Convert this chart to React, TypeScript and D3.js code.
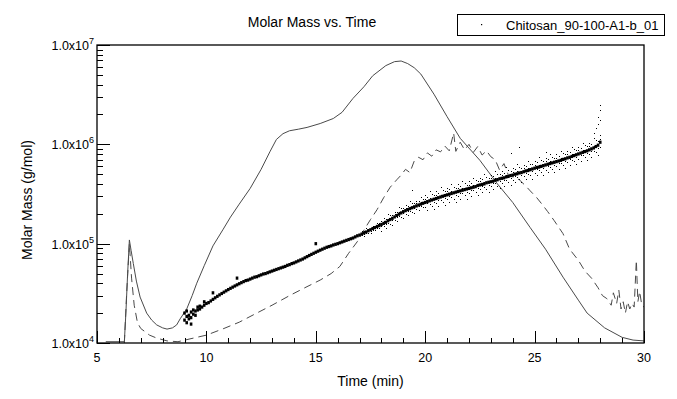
import React, { useEffect, useRef } from "react"
import * as d3 from "d3"

// axis ticks
const xMajorTicks = [5, 10, 15, 20, 25, 30]
const xMinorTicks = [6, 7, 8, 9, 11, 12, 13, 14, 16, 17, 18, 19, 21, 22, 23, 24, 26, 27, 28, 29]
const yDecades = [1e4, 1e5, 1e6, 1e7]
const yExponents = ["4", "5", "6", "7"]

const legendLabel = "Chitosan_90-100-A1-b_01"

// solid trace [time (min), value]
const solidTrace: [number, number][] = [
    [5.4, 1.03e4], [6.25, 1.03e4], [6.32, 2e4], [6.4, 5e4], [6.48, 1.09e5], [6.56, 8.5e4],
    [6.66, 6.3e4], [6.8, 4.2e4], [6.97, 2.9e4], [7.27, 2.0e4], [7.5, 1.7e4], [7.73, 1.52e4],
    [8.0, 1.42e4], [8.2, 1.38e4], [8.45, 1.42e4], [8.64, 1.52e4], [8.8, 1.75e4], [9.1, 2.2e4],
    [9.35, 3.0e4], [9.56, 4.0e4], [9.9, 6.0e4], [10.3, 9.5e4], [10.77, 1.4e5], [11.1, 1.85e5],
    [11.5, 2.5e5], [12.0, 3.6e5], [12.5, 5.6e5], [12.9, 8.4e5], [13.2, 1.12e6], [13.5, 1.28e6],
    [13.8, 1.37e6], [14.2, 1.42e6], [14.6, 1.48e6], [15.2, 1.62e6], [15.8, 1.82e6], [16.2, 2.1e6],
    [16.7, 2.9e6], [17.2, 3.8e6], [17.6, 4.9e6], [18.2, 6.2e6], [18.6, 6.8e6], [18.9, 6.9e6],
    [19.2, 6.5e6], [19.5, 5.9e6], [19.8, 5.1e6], [20.4, 3.2e6], [21.0, 1.9e6], [21.6, 1.15e6],
    [22.5, 6.9e5], [23.3, 4.0e5], [24.0, 2.6e5], [24.8, 1.45e5], [25.5, 8.8e4], [26.3, 4.6e4],
    [27.0, 2.7e4], [27.4, 2.0e4], [28.2, 1.42e4], [29.0, 1.14e4], [29.5, 1.07e4], [30, 1.05e4],
]

// dashed trace [time (min), value]
const dashedTrace: [number, number][] = [
    [6.25, 1.0e4], [6.35, 3e4], [6.48, 1.0e5], [6.58, 4.5e4], [6.7, 2.4e4], [6.85, 1.6e4],
    [7.0, 1.4e4], [7.4, 1.2e4], [7.73, 1.12e4], [8.2, 1.05e4], [8.7, 1.03e4], [9.25, 1.1e4],
    [10.0, 1.2e4], [10.8, 1.4e4], [11.5, 1.62e4], [12.3, 2.0e4], [13.0, 2.4e4], [13.8, 3.0e4],
    [14.5, 3.6e4], [15.2, 4.3e4], [15.7, 5.0e4], [16.1, 5.9e4], [16.5, 8.0e4], [16.9, 1.05e5],
    [17.2, 1.37e5], [17.5, 1.75e5], [17.8, 2.2e5], [18.1, 2.9e5], [18.4, 3.7e5], [18.7, 4.4e5],
    [18.9, 4.9e5], [19.1, 5.6e5], [19.3, 5.2e5], [19.5, 6.8e5], [19.7, 7.4e5], [19.9, 7.0e5],
    [20.1, 8.2e5], [20.3, 7.6e5], [20.5, 8.8e5], [20.7, 8.4e5], [20.9, 9.6e5], [21.1, 8.6e5],
    [21.3, 1.3e6], [21.4, 8.5e5], [21.6, 1.05e6], [21.8, 8.8e5], [22.0, 1.0e6], [22.2, 8.3e5],
    [22.4, 9.5e5], [22.6, 7.8e5], [22.8, 8.6e5], [23.0, 7.5e5], [23.2, 7.0e5], [23.4, 5.5e5],
    [23.6, 6.4e5], [23.8, 4.9e5], [24.0, 4.7e5], [24.3, 4.4e5], [24.6, 3.8e5], [24.8, 3.4e5],
    [25.1, 2.9e5], [25.4, 2.4e5], [25.6, 2.1e5], [25.9, 1.7e5], [26.3, 1.26e5], [26.6, 8.8e4],
    [27.0, 6.8e4], [27.3, 5.3e4], [27.6, 4.5e4], [27.9, 3.6e4], [28.1, 3.0e4], [28.3, 2.8e4],
    [28.5, 2.4e4], [28.6, 3.2e4], [28.75, 2.5e4], [28.85, 3.4e4], [28.95, 2.2e4], [29.05, 2.6e4],
    [29.15, 2.0e4], [29.25, 2.6e4], [29.35, 2.2e4], [29.45, 2.5e4], [29.55, 2.3e4], [29.65, 6.8e4],
    [29.72, 2.6e4], [29.8, 3.3e4], [29.9, 2.4e4], [30.0, 2.3e4],
]

// dense core of the molar mass points: [time, mass, mass, ...]
const molarMassCore: number[][] = [
    [9.0, 1.7e4, 2.0e4], [9.1, 1.85e4, 1.6e4, 2.1e4], [9.2, 1.9e4, 1.75e4], [9.3, 1.8e4, 2.05e4, 1.55e4],
    [9.4, 1.95e4, 2.15e4], [9.5, 2.1e4, 1.9e4], [9.6, 2.15e4, 2.3e4], [9.7, 2.2e4, 2.35e4],
    [9.8, 2.3e4], [9.9, 2.4e4, 2.6e4], [10.0, 2.5e4], [10.1, 2.55e4], [10.2, 2.65e4],
    [10.3, 2.75e4, 3.2e4], [10.4, 2.85e4], [10.5, 2.95e4], [10.6, 3.05e4], [10.7, 3.15e4],
    [10.8, 3.25e4], [10.9, 3.35e4], [11.0, 3.45e4], [11.1, 3.55e4], [11.2, 3.65e4], [11.3, 3.75e4],
    [11.4, 3.85e4, 4.5e4], [11.5, 3.95e4], [11.6, 4.05e4], [11.7, 4.15e4], [11.8, 4.25e4], [11.9, 4.3e4],
    [12.0, 4.4e4], [12.1, 4.5e4], [12.2, 4.6e4], [12.3, 4.65e4], [12.4, 4.75e4], [12.5, 4.85e4],
    [12.6, 4.95e4], [12.7, 5.0e4], [12.8, 5.1e4], [12.9, 5.2e4], [13.0, 5.3e4], [13.1, 5.4e4],
    [13.2, 5.5e4], [13.3, 5.6e4], [13.4, 5.7e4], [13.5, 5.8e4], [13.6, 5.9e4], [13.7, 6.05e4],
    [13.8, 6.15e4], [13.9, 6.3e4], [14.0, 6.4e4], [14.1, 6.55e4], [14.2, 6.7e4], [14.3, 6.85e4],
    [14.4, 7.0e4], [14.5, 7.2e4], [14.6, 7.4e4], [14.7, 7.6e4], [14.8, 7.8e4], [14.9, 8.0e4],
    [15.0, 8.2e4, 1.0e5], [15.1, 8.4e4], [15.2, 8.6e4], [15.3, 8.8e4], [15.4, 9.0e4], [15.5, 9.2e4],
    [15.6, 9.35e4], [15.7, 9.5e4], [15.8, 9.7e4], [15.9, 9.85e4], [16.0, 1.0e5], [16.1, 1.02e5],
    [16.2, 1.04e5], [16.3, 1.06e5], [16.4, 1.08e5], [16.5, 1.1e5], [16.6, 1.12e5], [16.7, 1.14e5],
    [16.8, 1.17e5], [16.9, 1.2e5], [17.0, 1.22e5], [17.1, 1.25e5], [17.2, 1.28e5], [17.3, 1.31e5],
    [17.4, 1.35e5], [17.5, 1.38e5], [17.6, 1.42e5], [17.7, 1.45e5], [17.8, 1.49e5], [17.9, 1.52e5],
    [18.0, 1.56e5], [18.1, 1.6e5], [18.2, 1.64e5], [18.3, 1.7e5], [18.4, 1.75e5], [18.5, 1.8e5],
    [18.6, 1.86e5], [18.7, 1.92e5], [18.8, 1.98e5], [18.9, 2.04e5], [19.0, 2.1e5], [19.1, 2.15e5],
    [19.2, 2.2e5], [19.3, 2.25e5], [19.4, 2.3e5], [19.5, 2.35e5], [19.6, 2.4e5], [19.7, 2.45e5],
    [19.8, 2.5e5], [19.9, 2.55e5], [20.0, 2.6e5], [20.1, 2.65e5], [20.2, 2.7e5], [20.3, 2.75e5],
    [20.4, 2.8e5], [20.5, 2.85e5], [20.6, 2.9e5], [20.7, 2.95e5], [20.8, 3.0e5], [20.9, 3.05e5],
    [21.0, 3.1e5], [21.1, 3.15e5], [21.2, 3.2e5], [21.3, 3.25e5], [21.4, 3.3e5], [21.5, 3.35e5],
    [21.6, 3.4e5], [21.7, 3.45e5], [21.8, 3.5e5], [21.9, 3.55e5], [22.0, 3.6e5], [22.1, 3.65e5],
    [22.2, 3.7e5], [22.3, 3.75e5], [22.4, 3.85e5], [22.5, 3.9e5], [22.6, 3.95e5], [22.7, 4.0e5],
    [22.8, 4.1e5], [22.9, 4.15e5], [23.0, 4.2e5], [23.1, 4.25e5], [23.2, 4.35e5], [23.3, 4.4e5],
    [23.4, 4.5e5], [23.5, 4.55e5], [23.6, 4.6e5], [23.7, 4.7e5], [23.8, 4.75e5], [23.9, 4.85e5],
    [24.0, 4.9e5], [24.1, 5.0e5], [24.2, 5.05e5], [24.3, 5.15e5], [24.4, 5.2e5], [24.5, 5.3e5],
    [24.6, 5.4e5], [24.7, 5.45e5], [24.8, 5.55e5], [24.9, 5.65e5], [25.0, 5.75e5], [25.1, 5.85e5],
    [25.2, 5.9e5], [25.3, 6.0e5], [25.4, 6.1e5], [25.5, 6.2e5], [25.6, 6.3e5], [25.7, 6.4e5],
    [25.8, 6.5e5], [25.9, 6.6e5], [26.0, 6.7e5], [26.1, 6.8e5], [26.2, 6.9e5], [26.3, 7.05e5],
    [26.4, 7.15e5], [26.5, 7.3e5], [26.6, 7.4e5], [26.7, 7.55e5], [26.8, 7.7e5], [26.9, 7.85e5],
    [27.0, 8.0e5], [27.1, 8.15e5], [27.2, 8.3e5], [27.3, 8.45e5], [27.4, 8.6e5], [27.5, 8.8e5],
    [27.6, 9.0e5], [27.7, 9.2e5], [27.8, 9.5e5], [27.9, 9.8e5], [28.0, 1.05e6],
]

// scattered molar mass points around the core: [time, mass, mass, ...]
const molarMassSpread: number[][] = [
    [17.1, 1.29e5, 1.21e5, 1.33e5], [17.2, 1.26e5, 1.34e5, 1.2e5], [17.3, 1.34e5, 1.28e5, 1.43e5],
    [17.4, 1.29e5, 1.36e5, 1.42e5], [17.5, 1.44e5, 1.35e5, 1.28e5], [17.6, 1.46e5, 1.37e5, 1.51e5],
    [17.7, 1.43e5, 1.52e5, 1.36e5], [17.8, 1.52e5, 1.45e5, 1.62e5], [17.9, 1.45e5, 1.54e5, 1.6e5],
    [18.0, 1.68e5, 1.5e5, 1.34e5], [18.1, 1.7e5, 1.49e5, 1.81e5], [18.2, 1.59e5, 1.79e5, 1.44e5],
    [18.3, 1.77e5, 1.62e5, 2.01e5], [18.4, 1.59e5, 1.79e5, 1.94e5], [18.5, 1.94e5, 1.73e5, 1.55e5],
    [18.6, 1.97e5, 1.73e5, 2.1e5], [18.7, 1.86e5, 2.09e5, 1.69e5], [18.8, 2.06e5, 1.88e5, 2.34e5],
    [18.9, 1.86e5, 2.08e5, 2.26e5], [19.0, 2.27e5, 2.02e5, 1.81e5], [19.1, 2.28e5, 2.0e5, 2.43e5],
    [19.2, 2.13e5, 2.4e5, 1.94e5], [19.3, 2.34e5, 2.14e5, 2.66e5], [19.4, 2.09e5, 2.35e5, 2.55e5, 3.5e5],
    [19.5, 2.54e5, 2.26e5, 2.02e5], [19.6, 2.54e5, 2.23e5, 2.71e5], [19.7, 2.38e5, 2.67e5, 2.16e5],
    [19.8, 2.6e5, 2.38e5, 2.95e5], [19.9, 2.32e5, 2.6e5, 2.83e5],
    [20.0, 2.82e5, 2.34e5, 3.07e5], [20.1, 2.54e5, 2.98e5, 2.2e5], [20.2, 2.85e5, 2.51e5, 3.38e5],
    [20.3, 2.41e5, 2.83e5, 3.18e5], [20.4, 3.11e5, 2.65e5, 2.24e5], [20.5, 3.09e5, 2.57e5, 3.36e5],
    [20.6, 2.78e5, 3.26e5, 2.41e5], [20.7, 3.11e5, 2.74e5, 3.69e5], [20.8, 2.63e5, 3.09e5, 3.47e5],
    [20.9, 3.39e5, 2.88e5, 2.44e5], [21.0, 3.36e5, 2.79e5, 3.66e5], [21.1, 3.02e5, 3.54e5, 2.61e5],
    [21.2, 3.38e5, 2.98e5, 4.0e5], [21.3, 2.84e5, 3.35e5, 3.75e5], [21.4, 3.66e5, 3.12e5, 2.64e5],
    [21.5, 3.63e5, 3.02e5, 3.95e5], [21.6, 3.26e5, 3.83e5, 2.82e5], [21.7, 3.64e5, 3.21e5, 4.31e5],
    [21.8, 3.06e5, 3.61e5, 4.04e5], [21.9, 3.94e5, 3.35e5, 2.84e5], [22.0, 3.91e5, 3.24e5, 4.25e5],
    [22.1, 3.5e5, 4.11e5, 3.03e5], [22.2, 3.9e5, 3.44e5, 4.63e5], [22.3, 3.28e5, 3.86e5, 4.33e5],
    [22.4, 4.27e5, 3.64e5, 3.08e5], [22.5, 4.23e5, 3.51e5, 4.6e5], [22.6, 3.79e5, 4.44e5, 3.28e5],
    [22.7, 4.22e5, 3.72e5, 5.0e5], [22.8, 3.59e5, 4.22e5, 4.74e5], [22.9, 4.61e5, 3.92e5, 3.32e5],
    [23.0, 4.56e5, 3.78e5, 4.96e5], [23.1, 4.08e5, 4.78e5, 3.53e5], [23.2, 4.59e5, 4.05e5, 5.44e5],
    [23.3, 3.85e5, 4.53e5, 5.08e5], [23.4, 5.0e5, 4.25e5, 3.6e5], [23.5, 4.94e5, 4.1e5, 5.37e5],
    [23.6, 4.42e5, 5.18e5, 3.82e5], [23.7, 4.96e5, 4.37e5, 5.88e5], [23.8, 4.16e5, 4.89e5, 5.49e5],
    [23.9, 5.38e5, 4.58e5, 3.88e5, 8.2e5], [24.0, 5.32e5, 4.41e5, 5.78e5], [24.1, 4.8e5, 5.63e5, 4.15e5],
    [24.2, 5.33e5, 4.7e5, 6.31e5], [24.3, 4.51e5, 5.3e5, 5.95e5, 9.4e5], [24.4, 5.77e5, 4.91e5, 4.16e5],
    [24.5, 5.75e5, 4.77e5, 6.25e5], [24.6, 5.18e5, 6.08e5, 4.48e5], [24.7, 5.75e5, 5.07e5, 6.81e5],
    [24.8, 4.86e5, 5.72e5, 6.41e5], [24.9, 6.27e5, 5.34e5, 4.52e5], [25.0, 6.24e5, 5.18e5, 6.79e5],
    [25.1, 5.62e5, 6.58e5, 4.86e5], [25.2, 6.22e5, 5.49e5, 7.38e5], [25.3, 5.25e5, 6.18e5, 6.93e5],
    [25.4, 6.77e5, 5.76e5, 4.88e5], [25.5, 6.73e5, 5.58e5, 7.32e5, 8.4e5], [25.6, 6.05e5, 7.09e5, 5.23e5],
    [25.7, 6.75e5, 5.95e5, 8.0e5], [25.8, 5.69e5, 6.7e5, 7.51e5], [25.9, 7.33e5, 6.24e5, 5.28e5],
    [26.0, 7.27e5, 6.03e5, 7.91e5], [26.1, 6.53e5, 7.65e5, 5.64e5], [26.2, 7.28e5, 6.42e5, 8.63e5],
    [26.3, 6.17e5, 7.26e5, 8.14e5], [26.4, 7.94e5, 6.76e5, 5.72e5], [26.5, 7.92e5, 6.57e5, 8.61e5],
    [26.6, 7.1e5, 8.33e5, 6.14e5], [26.7, 7.97e5, 7.02e5, 9.44e5], [26.8, 6.74e5, 7.93e5, 8.89e5],
    [26.9, 8.71e5, 7.42e5, 6.28e5], [27.0, 8.68e5, 7.2e5, 9.44e5], [27.1, 7.82e5, 9.17e5, 6.76e5],
    [27.2, 8.76e5, 7.72e5, 1.04e6], [27.3, 7.39e5, 8.7e5, 9.76e5], [27.4, 9.55e5, 8.13e5, 6.88e5],
    [27.5, 9.55e5, 7.92e5, 1.04e6], [27.6, 8.64e5, 1.01e6, 7.47e5],
    [27.7, 9.71e5, 8.56e5, 1.15e6, 1.3e6], [27.8, 8.31e5, 9.79e5, 1.1e6, 1.45e6],
    [27.9, 1.09e6, 9.26e5, 7.84e5, 1.6e6, 1.9e6], [28.0, 1.14e6, 9.45e5, 1.24e6, 1.75e6, 2.2e6, 2.5e6],
]

const FONT = "'Liberation Sans', Arial, sans-serif"
const INK = "#4a4a4a"

const App = () => {
    const svgRef = useRef<SVGSVGElement | null>(null)

    useEffect(() => {
        if (!svgRef.current) return
        const svg = d3.select(svgRef.current)
        svg.selectAll("*").remove()

        const left = 97
        const right = 644
        const top = 45
        const bottom = 343

        const x = d3.scaleLinear().domain([5, 30]).range([left, right])
        const y = d3.scaleLog().domain([1e4, 1e7]).range([bottom, top])

        svg.append("rect").attr("width", 677).attr("height", 399).attr("fill", "#fff")

        svg.append("clipPath")
            .attr("id", "plot-clip")
            .append("rect")
            .attr("x", left)
            .attr("y", top)
            .attr("width", right - left)
            .attr("height", bottom - top)

        const plot = svg.append("g").attr("clip-path", "url(#plot-clip)")

        const line = d3
            .line<[number, number]>()
            .x((d) => x(d[0]))
            .y((d) => y(d[1]))

        plot.append("path")
            .attr("d", line(solidTrace))
            .attr("fill", "none")
            .attr("stroke", INK)
            .attr("stroke-width", 1)

        plot.append("path")
            .attr("d", line(dashedTrace))
            .attr("fill", "none")
            .attr("stroke", INK)
            .attr("stroke-width", 1)
            .attr("stroke-dasharray", "8,5")

        const flatten = (rows: number[][]) => {
            const out: [number, number][] = []
            rows.forEach((row) => row.slice(1).forEach((m) => out.push([row[0], m])))
            return out
        }

        plot.append("g")
            .selectAll("rect")
            .data(flatten(molarMassCore))
            .enter()
            .append("rect")
            .attr("x", (d) => x(d[0]) - 1.3)
            .attr("y", (d) => y(d[1]) - 1.6)
            .attr("width", 2.6)
            .attr("height", 3.2)
            .attr("fill", "#000")

        plot.append("g")
            .selectAll("rect")
            .data(flatten(molarMassSpread))
            .enter()
            .append("rect")
            .attr("x", (d) => Math.round(x(d[0])))
            .attr("y", (d) => Math.round(y(d[1])))
            .attr("width", 1)
            .attr("height", 1)
            .attr("fill", "#000")

        // x tick labels
        svg.append("g")
            .selectAll("text")
            .data(xMajorTicks)
            .enter()
            .append("text")
            .attr("x", (d) => x(d))
            .attr("y", 362)
            .attr("text-anchor", "middle")
            .attr("font-family", FONT)
            .attr("font-size", 12.5)
            .text((d) => String(d))

        // y tick labels with superscript exponent
        const yLabels = svg.append("g").attr("font-family", FONT).attr("fill", "#000")
        yDecades.forEach((v, i) => {
            const t = yLabels.append("text")
                .attr("x", left - 3)
                .attr("y", y(v) + 5)
                .attr("text-anchor", "end")
                .attr("font-size", 12.5)
            t.append("tspan").text("1.0x10")
            t.append("tspan").attr("dy", -6).attr("font-size", 9).text(yExponents[i])
        })

        // frame
        svg.append("rect")
            .attr("x", left)
            .attr("y", top)
            .attr("width", right - left)
            .attr("height", bottom - top)
            .attr("fill", "none")
            .attr("stroke", "#000")
            .attr("stroke-width", 1.3)

        // ticks pointing into the plot, drawn as small filled rects
        const tickG = svg.append("g").attr("fill", "#000")
        xMajorTicks.forEach((t) => {
            tickG.append("rect").attr("x", Math.round(x(t))).attr("y", bottom - 12).attr("width", 1).attr("height", 12)
        })
        xMinorTicks.forEach((t) => {
            tickG.append("rect").attr("x", Math.round(x(t))).attr("y", bottom - 5).attr("width", 1).attr("height", 5)
        })
        y.ticks().forEach((v) => {
            const major = yDecades.includes(v)
            tickG.append("rect")
                .attr("x", left)
                .attr("y", Math.round(y(v)))
                .attr("width", major ? 13 : 6)
                .attr("height", 1)
        })

        // titles
        svg.append("text")
            .attr("x", 312)
            .attr("y", 27)
            .attr("text-anchor", "middle")
            .attr("font-family", FONT)
            .attr("font-size", 14)
            .text("Molar Mass vs. Time")

        svg.append("text")
            .attr("x", (left + right) / 2)
            .attr("y", 386)
            .attr("text-anchor", "middle")
            .attr("font-family", FONT)
            .attr("font-size", 14)
            .text("Time (min)")

        svg.append("text")
            .attr("transform", "translate(32," + 200 + ") rotate(-90)")
            .attr("text-anchor", "middle")
            .attr("font-family", FONT)
            .attr("font-size", 14)
            .text("Molar Mass (g/mol)")

        // legend
        const legend = svg.append("g")
        legend.append("rect")
            .attr("x", 457.5)
            .attr("y", 14.5)
            .attr("width", 207)
            .attr("height", 21)
            .attr("fill", "#fff")
            .attr("stroke", "#000")
            .attr("stroke-width", 1)
        legend.append("rect")
            .attr("x", 481)
            .attr("y", 24)
            .attr("width", 1.2)
            .attr("height", 1.2)
            .attr("fill", "#000")
        legend.append("text")
            .attr("x", 506)
            .attr("y", 29.5)
            .attr("font-family", FONT)
            .attr("font-size", 13)
            .text(legendLabel)
    }, [])

    return (
        <svg
            ref={svgRef}
            width={677}
            height={399}
            style={{ position: "absolute", left: 0, top: 0, display: "block" }}
        />
    )
}

export default App
